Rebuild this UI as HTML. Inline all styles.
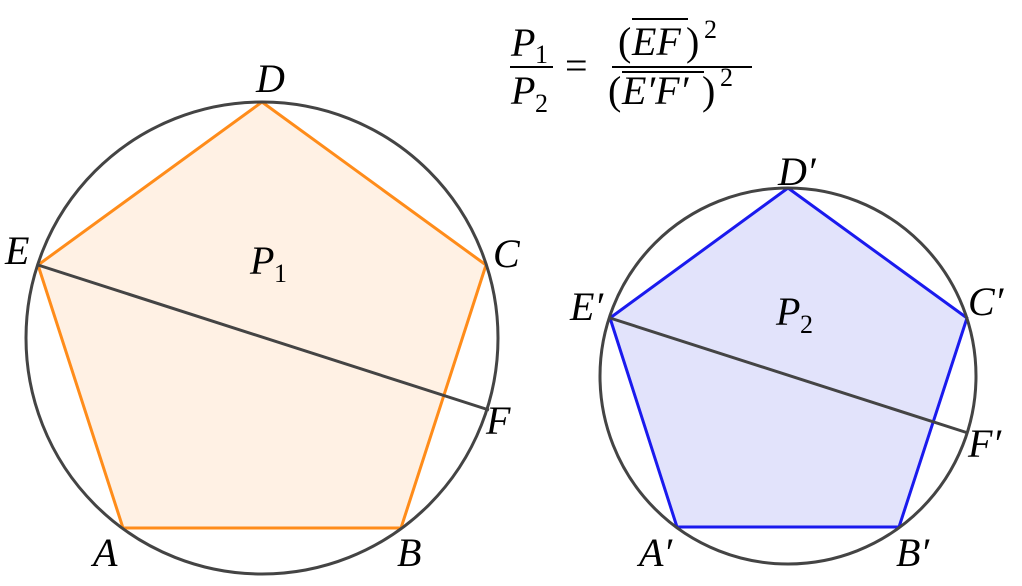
<!DOCTYPE html>
<html><head><style>html,body{margin:0;padding:0;background:#fff}</style></head>
<body>
<svg width="1022" height="581" xmlns="http://www.w3.org/2000/svg" font-family="Liberation Serif, serif" font-size="40">
<polygon points="262,102 486,265 401,528 123,528 38,265" fill="#fff1e4" stroke="#ff8c1a" stroke-width="3" stroke-linejoin="round"/>
<circle cx="262" cy="338" r="236" fill="none" stroke="#444" stroke-width="3"/>
<line x1="38" y1="265" x2="489" y2="410" stroke="#444" stroke-width="3"/>
<polygon points="788,188 967,318 899,527 677,527 610,318" fill="#e2e3fb" stroke="#1a1aee" stroke-width="3" stroke-linejoin="round"/>
<circle cx="788" cy="376" r="188" fill="none" stroke="#444" stroke-width="3"/>
<line x1="610" y1="318" x2="968" y2="433" stroke="#444" stroke-width="3"/>
<g font-style="italic">
<text x="256" y="92">D</text>
<text x="493" y="267">C</text>
<text x="5" y="264">E</text>
<text x="486" y="434">F</text>
<text x="93" y="566">A</text>
<text x="397" y="566">B</text>
<text x="250" y="274">P</text><text x="274" y="282" font-style="normal" font-size="26">1</text>
<text x="778" y="185">D′</text>
<text x="968" y="315">C′</text>
<text x="570" y="320">E′</text>
<text x="968" y="457">F′</text>
<text x="639" y="566">A′</text>
<text x="896" y="566">B′</text>
<text x="776" y="325">P</text><text x="800" y="333" font-style="normal" font-size="26">2</text>
<text x="511" y="56">P</text><text x="535" y="63" font-style="normal" font-size="26">1</text>
<text x="511" y="104">P</text><text x="535" y="112" font-style="normal" font-size="26">2</text>
</g>
<line x1="510" y1="67" x2="553" y2="67" stroke="#000" stroke-width="2"/>
<text x="565" y="79">=</text>
<line x1="612" y1="67" x2="752" y2="67" stroke="#000" stroke-width="2"/>
<text x="618" y="55">(</text>
<text x="632" y="55" font-style="italic">EF</text>
<line x1="632" y1="19" x2="688" y2="19" stroke="#000" stroke-width="2"/>
<text x="686" y="55">)</text>
<text x="704" y="38" font-size="26">2</text>
<text x="608" y="104">(</text>
<text x="622" y="104" font-style="italic">E′F′</text>
<line x1="622" y1="72" x2="704" y2="72" stroke="#000" stroke-width="2"/>
<text x="702" y="104">)</text>
<text x="720" y="86" font-size="26">2</text>
</svg>
</body></html>
